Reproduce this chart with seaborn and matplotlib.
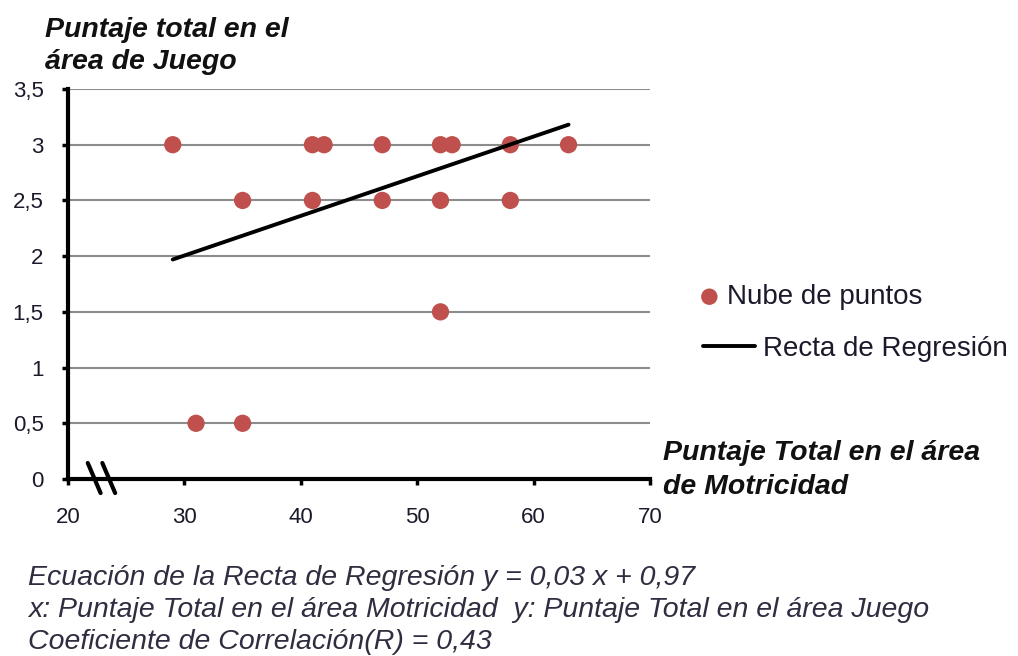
import matplotlib
matplotlib.use("Agg")
from matplotlib import pyplot as plt
import seaborn as sns
import pandas as pd

# puntos
motricidad = [29, 41, 42, 47, 52, 53, 58, 63,
              35, 41, 47, 52, 58,
              52,
              31, 35]
juego = [3, 3, 3, 3, 3, 3, 3, 3,
         2.5, 2.5, 2.5, 2.5, 2.5,
         1.5,
         0.5, 0.5]

# extremos de la recta tal como se dibuja
recta_x = [29, 63]
recta_y = [1.97, 3.18]

x_ticks = [20, 30, 40, 50, 60, 70]
y_ticks = [0, 0.5, 1, 1.5, 2, 2.5, 3, 3.5]
y_labels = ['0', '0,5', '1', '1,5', '2', '2,5', '3', '3,5']

puntos = pd.DataFrame({'x': motricidad, 'y': juego})
recta = pd.DataFrame({'x': recta_x, 'y': recta_y})

sns.set_style("white")
plt.rcParams['font.family'] = ['Liberation Sans', 'DejaVu Sans']

W, H = 1018, 656
fig = plt.figure(figsize=(W/100, H/100), dpi=100)
ax = fig.add_axes([68/W, 1-479/H, (650-68)/W, (479-89)/H])

sns.scatterplot(data=puntos, x='x', y='y', ax=ax, color='#c0504d', s=155,
                edgecolor='none', zorder=3, legend=False)
sns.lineplot(data=recta, x='x', y='y', ax=ax, color='black', linewidth=2.8,
             zorder=4, legend=False)

ax.set_xlim(20, 70)
ax.set_ylim(0, 3.5)
ax.set_xticks(x_ticks)
ax.set_yticks(y_ticks)
ax.set_xticklabels([str(v) for v in x_ticks], fontsize=16, color='#1a1a2a')
ax.set_yticklabels(y_labels, fontsize=16, color='#1a1a2a')
ax.yaxis.grid(True, color='#8c8c8c', linewidth=1.5)
ax.set_axisbelow(True)
ax.set_xlabel('')
ax.set_ylabel('')
for s in ['top', 'right']:
    ax.spines[s].set_visible(False)
for s in ['left', 'bottom']:
    ax.spines[s].set_color('black')
    ax.spines[s].set_linewidth(3)
ax.tick_params(axis='both', direction='out', length=4.5, width=2.5, color='black',
               bottom=True, left=True)
ax.tick_params(axis='x', pad=16)
ax.tick_params(axis='y', pad=13)

# marca de corte del eje
for x0 in [0.034, 0.059]:
    ax.plot([x0, x0 + 0.022], [0.041, -0.036], transform=ax.transAxes,
            color='black', linewidth=3, clip_on=False, zorder=5)

# leyenda en dos piezas
h_pts = ax.scatter([], [], color='#c0504d', s=140, edgecolor='none')
h_lin, = ax.plot([], [], color='black', linewidth=2.8)
leg1 = fig.legend([h_pts], ['Nube de puntos'], loc='center left',
                  bbox_to_anchor=(701/W, 1-297/H), frameon=False, fontsize=20,
                  handlelength=0.6, handletextpad=0.33, borderpad=0,
                  borderaxespad=0, scatterpoints=1)
leg2 = fig.legend([h_lin], ['Recta de Regresión'], loc='center left',
                  bbox_to_anchor=(703/W, 1-349/H), frameon=False, fontsize=20,
                  handlelength=1.87, handletextpad=0.29, borderpad=0,
                  borderaxespad=0)
for lg in (leg1, leg2):
    for t in lg.get_texts():
        t.set_color('#1a1a2a')

titulo = dict(fontsize=20.5, fontweight='bold', fontstyle='italic',
              va='center', ha='left', color='#111111')
fig.text(45/W, 1-30/H, 'Puntaje total en el', **titulo)
fig.text(45/W, 1-62/H, 'área de Juego', **titulo)
fig.text(663/W, 1-453/H, 'Puntaje Total en el área', **titulo)
fig.text(663/W, 1-487/H, 'de Motricidad', **titulo)

notas = ['Ecuación de la Recta de Regresión y = 0,03 x + 0,97',
         'x: Puntaje Total en el área Motricidad  y: Puntaje Total en el área Juego',
         'Coeficiente de Correlación(R) = 0,43']
for i, t in enumerate(notas):
    fig.text(28/W, 1-(578 + i*32)/H, t, fontsize=20.5, fontstyle='italic',
             color='#2e2e40', va='center', ha='left')

fig.savefig('out.png', dpi=100)
